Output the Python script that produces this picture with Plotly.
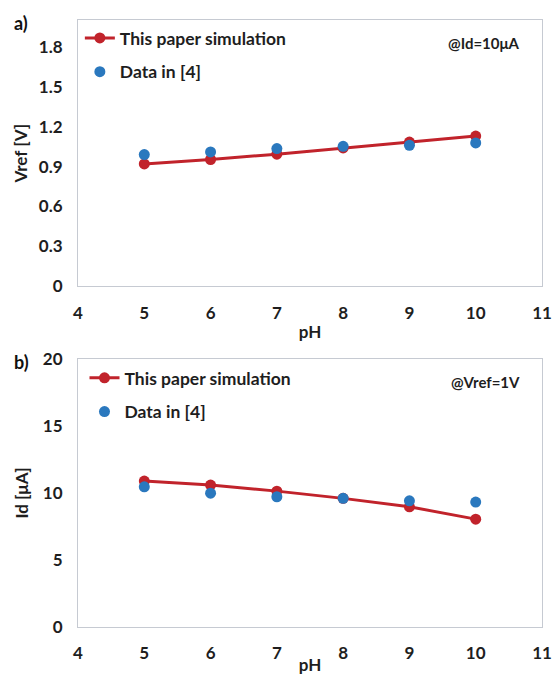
import plotly.graph_objects as go
from plotly.subplots import make_subplots

ph = [5, 6, 7, 8, 9, 10]
vref_sim = [0.92, 0.953, 0.993, 1.04, 1.084, 1.129]
vref_data = [0.99, 1.01, 1.035, 1.052, 1.06, 1.077]
id_sim = [10.89, 10.59, 10.14, 9.6, 8.97, 8.05]
id_data = [10.46, 9.99, 9.72, 9.6, 9.42, 9.32]
vref_ticks = [0, 0.3, 0.6, 0.9, 1.2, 1.5, 1.8]
vref_ticktext = ["0", "0.3", "0.6", "0.9", "1.2", "1.5", "1.8"]

RED = "#C1232B"
BLUE = "#2A78BE"
FONT = "Lato"
TXT = "#1E1E1E"

fig = make_subplots(rows=2, cols=1, vertical_spacing=0.12)

fig.add_trace(go.Scatter(x=ph, y=vref_sim, mode="lines+markers", name="This paper simulation",
                         line=dict(color=RED, width=3), marker=dict(color=RED, size=11),
                         legend="legend", legendgroup="a1"), row=1, col=1)
fig.add_trace(go.Scatter(x=ph, y=vref_data, mode="markers", name="Data in [4]",
                         marker=dict(color=BLUE, size=11), legend="legend", legendgroup="a2"), row=1, col=1)
fig.add_trace(go.Scatter(x=ph, y=id_sim, mode="lines+markers", name="This paper simulation",
                         line=dict(color=RED, width=3), marker=dict(color=RED, size=11),
                         legend="legend2", legendgroup="b1"), row=2, col=1)
fig.add_trace(go.Scatter(x=ph, y=id_data, mode="markers", name="Data in [4]",
                         marker=dict(color=BLUE, size=11), legend="legend2", legendgroup="b2"), row=2, col=1)

tickf = dict(family=FONT, size=17, color=TXT, weight="bold")
titlef = dict(family=FONT, size=17, color=TXT)
axcommon = dict(showgrid=False, zeroline=False, showline=True, mirror=True, linecolor="#C6CAD2",
                linewidth=1, ticks="", tickfont=tickf, ticklabelstandoff=11, automargin=False)

fig.update_xaxes(range=[4, 11], dtick=1, domain=[0, 1], **axcommon)
fig.update_yaxes(**axcommon)
fig.update_xaxes(title=dict(text="<b>pH</b>", font=titlef, standoff=4), row=1, col=1)
fig.update_xaxes(title=dict(text="<b>pH</b>", font=titlef, standoff=4), row=2, col=1)
fig.update_yaxes(range=[0, 2.0], tickvals=vref_ticks, ticktext=vref_ticktext,
                 title=dict(text="<b>Vref [V]</b>", font=titlef, standoff=6),
                 domain=[0.561, 1.0], row=1, col=1)
fig.update_yaxes(range=[0, 20], dtick=5,
                 title=dict(text="<b>Id [μA]</b>", font=titlef, standoff=9),
                 domain=[0.0, 0.4415], row=2, col=1)

legcommon = dict(font=dict(family=FONT, size=17.5, color=TXT, weight="bold"), bgcolor="rgba(0,0,0,0)",
                 traceorder="grouped", tracegroupgap=8, itemwidth=30, xanchor="left", yanchor="top")
fig.update_layout(
    legend=dict(x=0.004, y=1.0, **legcommon),
    legend2=dict(x=0.014, y=0.44, **legcommon),
)

annf = dict(family=FONT, size=15, color=TXT)
fig.add_annotation(text="<b>@Id=10μA</b>", xref="paper", yref="paper", x=0.957, y=0.962,
                   xanchor="right", yanchor="middle", showarrow=False, font=annf)
fig.add_annotation(text="<b>@Vref=1V</b>", xref="paper", yref="paper", x=0.957, y=0.4036,
                   xanchor="right", yanchor="middle", showarrow=False, font=annf)
labf = dict(family=FONT, size=18, color="#111111")
fig.add_annotation(text="<b>a)</b>", xref="paper", yref="paper", x=-0.142, y=0.995, xanchor="left",
                   yanchor="middle", showarrow=False, font=labf)
fig.add_annotation(text="<b>b)</b>", xref="paper", yref="paper", x=-0.142, y=0.4366, xanchor="left",
                   yanchor="middle", showarrow=False, font=labf)

fig.update_layout(width=554, height=675, margin=dict(l=78, r=12, t=20, b=48, autoexpand=False),
                  plot_bgcolor="white", paper_bgcolor="white", font=dict(family=FONT, color=TXT))

fig.write_html("out.html", config={"displayModeBar": False},
               post_script="document.body.style.margin='0';")
